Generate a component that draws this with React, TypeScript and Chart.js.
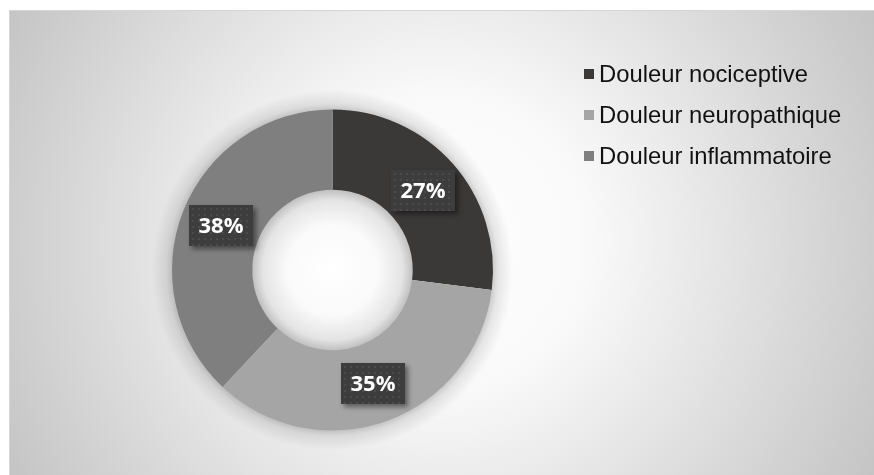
import React, { useEffect, useRef } from "react";
import { Chart, registerables } from "chart.js";

Chart.register(...registerables);

const categories = ["Douleur nociceptive", "Douleur neuropathique", "Douleur inflammatoire"];
const values = [27, 35, 38];
const colors = ["#3b3938", "#a5a5a5", "#7f7f7f"];

const frameBg = {
  id: "frameBg",
  beforeDraw(chart: any) {
    const { ctx, width, height } = chart;
    ctx.save();
    ctx.fillStyle = "#ffffff";
    ctx.fillRect(0, 0, width, height);
    const cx = 441, cy = 242;
    const g = ctx.createRadialGradient(cx, cy, 0, cx, cy, 500);
    g.addColorStop(0, "#ffffff");
    g.addColorStop(0.3, "#f9f9f9");
    g.addColorStop(1, "#c3c3c3");
    ctx.fillStyle = g;
    ctx.fillRect(9, 10, width, height);
    ctx.strokeStyle = "#d6d6d6";
    ctx.lineWidth = 1;
    ctx.strokeRect(9.5, 10.5, width + 10, height + 10);
    ctx.restore();
  },
};

const ringShadow = {
  id: "ringShadow",
  beforeDatasetsDraw(chart: any) {
    const ctx = chart.ctx;
    const arc = chart.getDatasetMeta(0).data[0] as any;
    if (!arc) return;
    const { x, y, outerRadius, innerRadius } = arc;
    ctx.save();
    const go = ctx.createRadialGradient(x, y, outerRadius - 2, x, y, outerRadius + 20);
    go.addColorStop(0, "rgba(0,0,0,0.22)");
    go.addColorStop(0.35, "rgba(0,0,0,0.09)");
    go.addColorStop(1, "rgba(0,0,0,0)");
    ctx.fillStyle = go;
    ctx.beginPath();
    ctx.arc(x, y, outerRadius + 20, 0, Math.PI * 2);
    ctx.arc(x, y, outerRadius - 2, 0, Math.PI * 2, true);
    ctx.fill("evenodd");
    const gi = ctx.createRadialGradient(x, y, 0, x, y, innerRadius + 2);
    gi.addColorStop(0, "rgba(255,255,255,1)");
    gi.addColorStop(0.55, "rgba(250,250,250,1)");
    gi.addColorStop(0.85, "rgba(228,228,228,1)");
    gi.addColorStop(1, "rgba(185,185,185,1)");
    ctx.fillStyle = gi;
    ctx.beginPath();
    ctx.arc(x, y, innerRadius + 2, 0, Math.PI * 2);
    ctx.fill();
    ctx.restore();
  },
};

const labelBoxes = {
  id: "labelBoxes",
  afterDraw(chart: any) {
    const ctx = chart.ctx;
    const meta = chart.getDatasetMeta(0);
    const data = chart.data.datasets[0].data as number[];
    const total = data.reduce((a, b) => a + b, 0);
    meta.data.forEach((arc: any, i: number) => {
      const p = arc.tooltipPosition();
      const w = 64, h = 41;
      const x = Math.round(p.x - w / 2), y = Math.round(p.y - h / 2);
      ctx.save();
      ctx.shadowColor = "rgba(0,0,0,0.45)";
      ctx.shadowBlur = 5;
      ctx.shadowOffsetX = 3;
      ctx.shadowOffsetY = 3;
      ctx.fillStyle = "#3d3d3d";
      ctx.fillRect(x, y, w, h);
      ctx.restore();
      ctx.save();
      ctx.fillStyle = "#4b4b4b";
      for (let yy = y + 3; yy < y + h - 1; yy += 6) {
        for (let xx = x + 3; xx < x + w - 1; xx += 6) {
          ctx.fillRect(xx, yy, 2, 2);
        }
      }
      ctx.fillStyle = "#ffffff";
      ctx.font = "bold 22px 'Open Sans'";
      ctx.textAlign = "center";
      ctx.textBaseline = "middle";
      const pct = Math.round((data[i] / total) * 100) + "%";
      ctx.fillText(pct, x + w / 2, y + h / 2 + 1);
      ctx.restore();
    });
  },
};

const customLegend = {
  id: "customLegend",
  afterDraw(chart: any) {
    const ctx = chart.ctx;
    const labels = chart.data.labels as string[];
    const bg = chart.data.datasets[0].backgroundColor as string[];
    ctx.save();
    labels.forEach((lab, i) => {
      const cy = 74 + i * 41;
      ctx.fillStyle = bg[i];
      ctx.fillRect(584, cy - 5, 10, 10);
      ctx.fillStyle = "#111111";
      ctx.font = "23.8px 'Liberation Sans'";
      ctx.textAlign = "left";
      ctx.textBaseline = "middle";
      ctx.fillText(lab, 599, cy + 1);
    });
    ctx.restore();
  },
};

export default function App() {
  const ref = useRef<HTMLCanvasElement>(null);
  useEffect(() => {
    const chart = new Chart(ref.current!, {
      type: "doughnut",
      data: {
        labels: categories,
        datasets: [
          {
            data: values,
            backgroundColor: colors,
            borderWidth: 0,
          },
        ],
      },
      options: {
        animation: false,
        responsive: false,
        cutout: "50%",
        layout: { padding: { left: 172, right: 381, top: 109, bottom: 44 } },
        plugins: {
          legend: { display: false },
          tooltip: { enabled: false },
        },
      },
      plugins: [frameBg, ringShadow, labelBoxes, customLegend],
    });
    return () => chart.destroy();
  }, []);
  return (
    <div style={{ position: "absolute", left: 0, top: 0, width: 874, height: 475 }}>
      <canvas ref={ref} width={874} height={475} style={{ width: 874, height: 475, display: "block" }} />
    </div>
  );
}
